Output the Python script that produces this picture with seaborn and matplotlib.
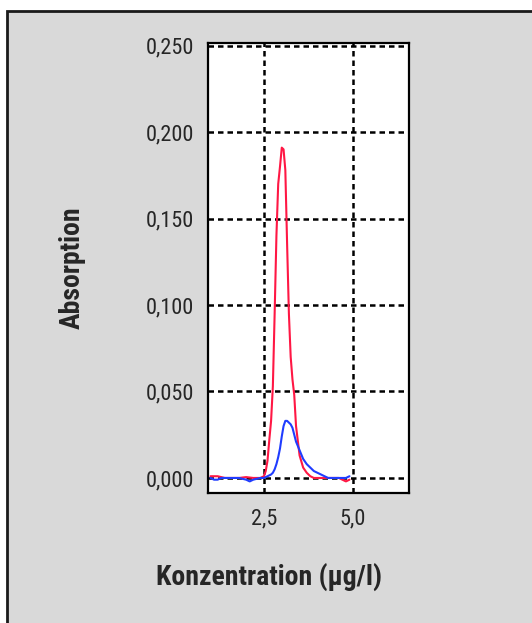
import numpy as np
import pandas as pd
import matplotlib
matplotlib.use("Agg")
import matplotlib.pyplot as plt
from matplotlib import font_manager
from matplotlib.patches import Rectangle
import seaborn as sns

x_red = [1.0, 1.2, 1.4, 1.6, 1.8, 2.0, 2.2, 2.4, 2.5, 2.55, 2.6, 2.65, 2.7, 2.75,
         2.8, 2.85, 2.9, 2.95, 3.0, 3.05, 3.1, 3.15, 3.2, 3.25, 3.3, 3.35, 3.4,
         3.5, 3.6, 3.7, 3.8, 3.9, 4.0, 4.2, 4.4, 4.6, 4.7, 4.8, 4.9]
y_red = [0.001, 0.001, 0.000, 0.000, 0.000, 0.0005, 0.000, 0.000, 0.001, 0.004,
         0.010, 0.022, 0.033, 0.053, 0.095, 0.140, 0.170, 0.180, 0.191, 0.190,
         0.178, 0.135, 0.095, 0.070, 0.057, 0.048, 0.030, 0.013, 0.006, 0.003,
         0.001, 0.000, 0.000, 0.000, 0.000, 0.000, -0.001, -0.002, -0.001]

x_blue = [1.0, 1.1, 1.2, 1.3, 1.5, 1.8, 2.0, 2.1, 2.2, 2.4, 2.5, 2.6, 2.7, 2.75,
          2.8, 2.85, 2.9, 2.95, 3.0, 3.05, 3.1, 3.15, 3.2, 3.25, 3.3, 3.35, 3.4,
          3.5, 3.6, 3.7, 3.8, 3.9, 4.0, 4.1, 4.2, 4.3, 4.4, 4.6, 4.8, 4.9]
y_blue = [0.000, -0.001, -0.001, 0.000, 0.000, 0.000, -0.001, -0.002, -0.001,
          0.000, 0.000, 0.001, 0.002, 0.003, 0.005, 0.008, 0.012, 0.017, 0.024,
          0.030, 0.033, 0.033, 0.032, 0.031, 0.029, 0.025, 0.021, 0.016, 0.011,
          0.008, 0.006, 0.004, 0.003, 0.002, 0.001, 0.000, 0.000, 0.000, 0.000,
          0.001]

x_ticks = [2.5, 5.0]
x_ticklabels = ["2,5", "5,0"]
y_ticks = [0.0, 0.05, 0.10, 0.15, 0.20, 0.25]
y_ticklabels = ["0,000", "0,050", "0,100", "0,150", "0,200", "0,250"]

sns.set_style("white")
installed = {f.name for f in font_manager.fontManager.ttflist}
fam = [f for f in ["Liberation Sans Narrow", "Roboto Condensed", "DejaVu Sans"] if f in installed]
plt.rcParams["font.family"] = fam

fig = plt.figure(figsize=(5.32, 6.23), dpi=100)
fig.patch.set_facecolor("white")
# grauer Hintergrund mit Rahmen
fig.patches.append(Rectangle((7 / 532, -0.2), 1.2, 1.2 - 11 / 623,
                             transform=fig.transFigure, facecolor="#d9d9d9",
                             edgecolor="#1a1a1a", linewidth=2, zorder=-10))

ax = fig.add_axes([208 / 532, 1 - 493 / 623, 201 / 532, 450 / 623])
ax.set_facecolor("white")

sns.lineplot(x=x_red, y=y_red, color="#ff1744", linewidth=1.5, ax=ax, zorder=3)
sns.lineplot(x=x_blue, y=y_blue, color="#1f3cff", linewidth=1.5, ax=ax, zorder=4)

ax.set_xlim(0.93, 6.57)
ax.set_ylim(-0.0087, 0.2515)
ax.set_xticks(x_ticks)
ax.set_xticklabels(x_ticklabels, fontsize=16)
ax.set_yticks(y_ticks)
ax.set_yticklabels(y_ticklabels, fontsize=16)
ax.tick_params(axis="both", direction="in", length=7, width=2, color="black")
ax.tick_params(axis="x", pad=11)
ax.tick_params(axis="y", pad=10)

ax.grid(True, color="black", linestyle=(0, (2.2, 1.6)), linewidth=1.8)
ax.set_axisbelow(True)
for s in ax.spines.values():
    s.set_color("black")
    s.set_linewidth(1.6)

ax.set_ylabel("Absorption", fontsize=20, fontweight="bold")
ax.set_xlabel("Konzentration (µg/l)", fontsize=20, fontweight="bold")
ax.yaxis.set_label_coords(-0.61, 0.5)
ax.xaxis.set_label_coords(0.303, -0.155)

fig.savefig("out.png", dpi=100)
